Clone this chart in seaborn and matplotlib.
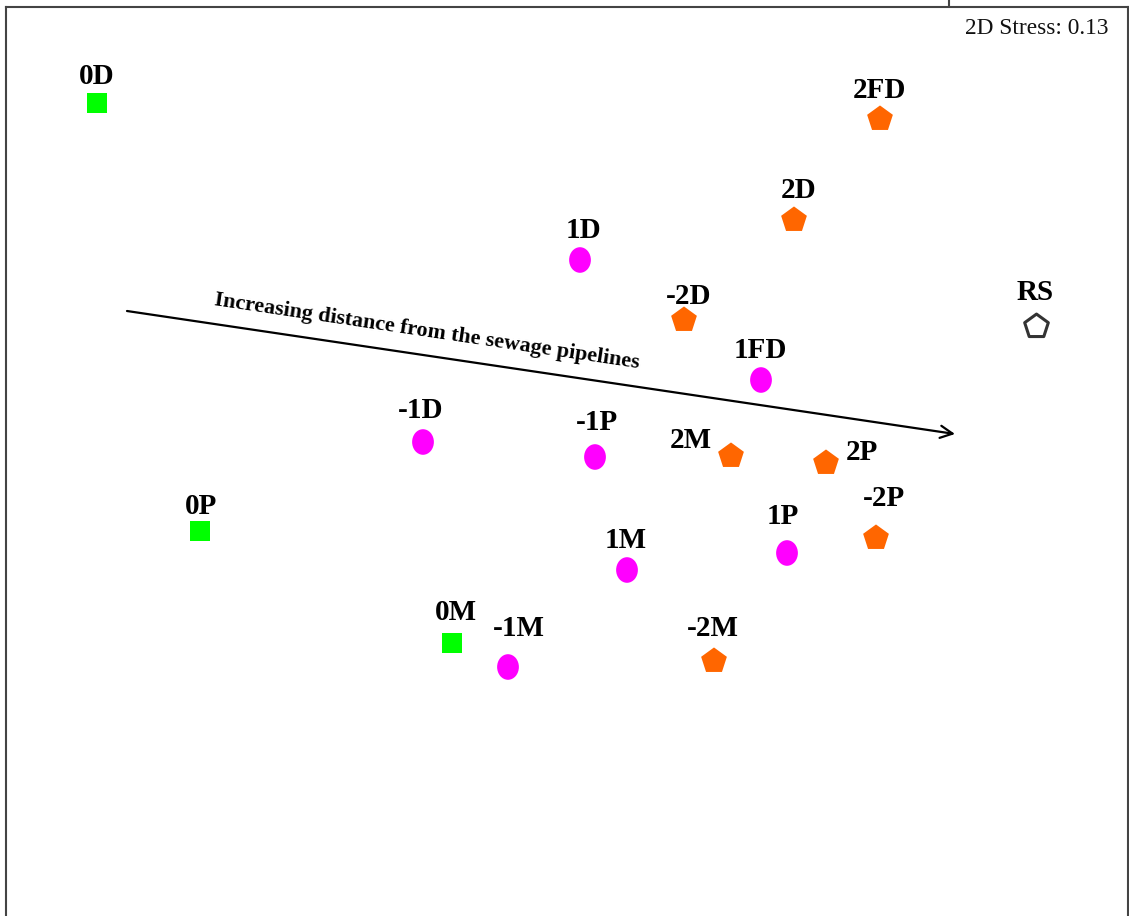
import numpy as np
import pandas as pd
import matplotlib
matplotlib.use("Agg")
import matplotlib.pyplot as plt
import seaborn as sns
from matplotlib.path import Path
from matplotlib.transforms import Affine2D
from matplotlib.lines import Line2D

sns.set_theme(style="white")
plt.rcParams['font.family'] = ['Liberation Serif', 'DejaVu Serif']

# ---- data (NMDS scores) ----
samples = ["0D", "0P", "0M",
           "1D", "-1D", "-1P", "1FD", "1M", "1P", "-1M",
           "2FD", "2D", "-2D", "2M", "2P", "-2P", "-2M",
           "RS"]
groups = ["0", "0", "0",
          "1", "1", "1", "1", "1", "1", "1",
          "2", "2", "2", "2", "2", "2", "2",
          "RS"]
nmds1 = [-1.006, -0.800, -0.296,
         -0.040, -0.354, -0.010, 0.322, 0.054, 0.374, -0.184,
         0.560, 0.388, 0.168, 0.262, 0.452, 0.552, 0.228,
         0.872]
nmds2 = [0.714, -0.142, -0.366,
         0.400, 0.036, 0.006, 0.160, -0.220, -0.186, -0.414,
         0.682, 0.480, 0.280, 0.008, -0.006, -0.156, -0.402,
         0.268]
# label offsets (pixels)
label_dx = [0, 1, 4, 3, -2, 2, -1, -1, -4, 11, -1, 5, 5, -40, 36, 8, -1, -1]
label_dy = [27, 25, 31, 30, 32, 34, 30, 29, 36, 38, 29, 29, 24, 16, 11, 39, 33, 33]

stress_text = "2D Stress: 0.13"
arrow_text = "Increasing distance from the sewage pipelines"
arrow_start = (-0.946, 0.298)
arrow_end = (0.710, 0.052)

df = pd.DataFrame({"sample": samples, "group": groups, "NMDS1": nmds1, "NMDS2": nmds2})

# ---- figure ----
W, H = 1129, 916
fig = plt.figure(figsize=(W / 100, H / 100), dpi=100)
ax = fig.add_axes([6 / W, 1 - 925 / H, 1122 / W, 918 / H])

ellipse = Path.unit_circle().transformed(Affine2D().scale(0.85, 1.0))

styles = {
    "0": dict(marker="s", s=210, color="#00FF00", edgecolor="none", linewidth=0),
    "1": dict(marker=ellipse, s=340, color="#FF00FF", edgecolor="none", linewidth=0),
    "2": dict(marker="p", s=380, color="#FF6600", edgecolor="none", linewidth=0),
    "RS": dict(marker="p", s=320, color="white", edgecolor="#333333", linewidth=2.2),
}
for g, st in styles.items():
    sub = df[df["group"] == g]
    sns.scatterplot(data=sub, x="NMDS1", y="NMDS2", ax=ax, legend=False, zorder=3, **st)

for name, x, y, dx, dy in zip(samples, nmds1, nmds2, label_dx, label_dy):
    ax.annotate(name, (x, y), xytext=(dx, dy), textcoords="offset pixels",
                ha="center", va="center", fontsize=21, fontweight="bold", color="black")

ax.set_xlim(-1.188, 1.056)
ax.set_ylim(-0.93, 0.906)
ax.set_xticks([])
ax.set_yticks([])
ax.set_xlabel("")
ax.set_ylabel("")
for sp in ax.spines.values():
    sp.set_color("#444444")
    sp.set_linewidth(1.5)

# arrow
ax.annotate("", xy=arrow_end, xytext=arrow_start,
            arrowprops=dict(arrowstyle="->", color="black", lw=1.6,
                            mutation_scale=22, shrinkA=0, shrinkB=0))
ang = np.degrees(np.arctan2(arrow_end[1] - arrow_start[1], arrow_end[0] - arrow_start[0]))
ax.text(-0.346, 0.256, arrow_text, rotation=ang, rotation_mode="anchor",
        ha="center", va="center", fontsize=15.8, fontweight="bold", color="black")

ax.text(0.983, 0.977, stress_text, transform=ax.transAxes, ha="right", va="center",
        fontsize=16.8, color="#111111")

fig.add_artist(Line2D([949 / W, 949 / W], [1 - 7 / H, 1.0], color="#444444", lw=1.5))

fig.savefig("out.png", dpi=100)
